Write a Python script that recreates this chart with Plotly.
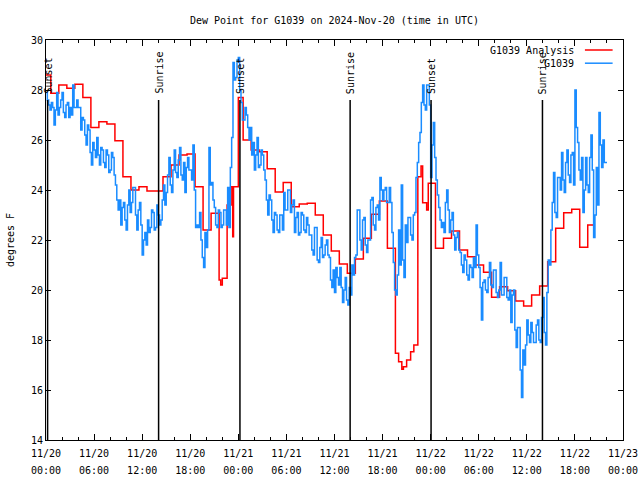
import pandas as pd
import plotly.graph_objects as go

# ---------------- data ----------------
start = pd.Timestamp("2024-11-20 00:00")

# G1039 Analysis (hourly step series) : hours since start, dew point (F)
analysis_hours = [0.0, 0.6, 1.6, 2.6, 3.6, 4.6, 5.6, 6.6, 7.6, 8.6, 9.6, 10.6, 11.6, 12.6, 13.6,
                  14.6, 15.6, 16.6, 17.6, 18.6, 19.6, 20.6, 21.6, 21.8, 22.0, 22.6, 23.1, 23.3, 23.4,
                  24.0, 24.6, 25.6, 26.6, 27.6, 28.6, 29.6, 30.6, 31.6, 32.6, 33.6, 34.6, 35.6, 36.6,
                  37.6, 38.6, 39.6, 40.6, 41.6, 42.6, 43.6, 44.0, 44.4, 44.6, 45.0, 45.5, 45.9, 46.4,
                  46.8, 47.0, 47.5, 47.7, 48.6, 49.6, 50.6, 51.6, 52.6, 53.6, 54.6, 55.6, 56.6, 57.6,
                  58.6, 59.6, 60.6, 61.6, 62.6, 63.6, 64.6, 65.6, 66.6, 67.6, 68.5]
analysis_values = [28.6, 27.87, 28.2, 28.07, 28.23, 27.7, 26.5, 26.73, 26.64, 25.97, 24.53, 24.0, 24.13, 23.96, 23.96,
                   24.53, 25.0, 25.4, 25.44, 24.13, 22.4, 23.07, 20.4, 20.2, 20.47, 23.4, 24.13, 22.13, 24.13,
                   27.7, 26.0, 25.6, 25.53, 24.85, 23.92, 24.3, 23.33, 23.44, 23.47, 23.0, 22.2, 21.56, 21.04,
                   20.67, 21.24, 22.07, 23.03, 23.56, 21.67, 17.47, 17.13, 16.83, 16.93, 17.2, 17.53, 17.8, 24.53,
                   24.96, 23.49, 23.2, 24.27, 21.67, 22.07, 22.36, 21.6, 21.33, 21.0, 20.71, 19.71, 20.13, 19.97,
                   19.56, 19.36, 19.8, 20.16, 21.13, 22.47, 23.09, 23.23, 21.71, 22.6, 22.6]

# G1039 observations, one value every 10 minutes (one row per hour)
obs_step_minutes = 10
obs_values = [
    27.9, 27.6, 27.4, 27.2, 27.5, 27.3,
    26.6, 27.2, 27.9, 27.0, 27.3, 27.6,
    27.9, 27.1, 26.9, 27.4, 27.5, 26.9,
    27.3, 27.0, 28.2, 27.3, 27.3, 27.6,
    27.3, 27.3, 26.4, 26.9, 26.8, 26.2,
    25.8, 26.6, 26.4, 25.5, 25.0, 25.9,
    25.6, 25.3, 26.1, 25.4, 25.0, 25.7,
    25.6, 25.1, 24.9, 25.6, 25.4, 24.7,
    24.8, 25.5, 25.3, 24.6, 24.2, 23.6,
    23.2, 23.6, 22.6, 23.3, 23.5, 22.8,
    22.4, 23.4, 24.0, 23.1, 23.5, 24.1,
    24.1, 23.0, 22.4, 23.2, 23.5, 22.6,
    21.4, 22.0, 22.3, 21.8, 22.8, 22.3,
    22.5, 23.2, 23.1, 22.4, 22.5, 23.4,
    23.0, 22.6, 22.8, 23.6, 24.2, 23.4,
    23.9, 24.6, 25.3, 24.2, 23.9, 24.8,
    25.6, 24.7, 24.5, 25.2, 25.7, 24.6,
    24.4, 25.1, 23.9, 24.9, 25.3, 24.8,
    24.8, 24.4, 25.8, 24.0, 22.5, 22.6,
    22.5, 23.1, 22.0, 21.3, 20.9, 22.3,
    21.7, 22.4, 25.7, 24.2, 24.3, 23.6,
    23.3, 22.6, 22.5, 23.2, 23.1, 22.5,
    22.6, 23.2, 23.2, 22.6, 24.1, 22.5,
    24.9, 26.1, 29.1, 28.4, 28.5, 29.2,
    29.3, 28.0, 27.5, 26.8, 26.8, 27.3,
    27.0, 26.5, 26.0, 26.5, 25.4, 25.9,
    24.8, 25.4, 26.1, 24.9, 25.0, 25.6,
    25.4, 24.8, 24.4, 23.6, 23.0, 23.8,
    23.6, 22.8, 22.3, 23.1, 23.0, 22.4,
    22.3, 23.0, 23.0, 22.4, 23.9, 23.2,
    23.2, 24.0, 24.0, 23.1, 23.4, 23.6,
    22.3, 22.9, 23.1, 22.2, 22.3, 23.1,
    23.0, 22.4, 22.3, 22.9, 22.6, 22.2,
    22.2, 21.6, 21.4, 22.5, 22.5, 21.2,
    21.1, 21.7, 22.1, 21.3, 21.4, 21.8,
    22.0, 21.4, 21.3, 20.4, 20.1, 20.8,
    19.9, 20.9, 20.5, 20.2, 20.9, 20.1,
    19.5, 20.0, 20.5, 19.6, 19.4, 20.1,
    19.8, 21.0, 20.6, 21.3, 21.4, 23.2,
    23.2, 22.0, 21.6, 22.8, 22.9, 21.8,
    21.5, 22.0, 22.0, 23.6, 23.7, 22.6,
    22.4, 23.3, 23.4, 22.8, 24.5, 24.0,
    23.6, 24.0, 24.1, 23.5, 23.5, 24.1,
    23.5, 22.3, 21.1, 20.0, 19.8, 20.6,
    22.4, 21.0, 24.2, 21.2, 20.5, 22.6,
    21.9, 22.9, 22.9, 22.2, 22.0, 23.0,
    23.1, 24.5, 25.1, 25.9, 26.3, 27.5,
    28.2, 27.4, 27.2, 28.2, 28.2, 27.4,
    24.5, 25.8, 26.7, 25.3, 24.4, 23.8,
    23.3, 22.8, 22.5, 22.7, 22.3, 23.5,
    24.0, 23.2, 22.3, 22.8, 23.1, 22.2,
    21.6, 22.1, 22.3, 21.6, 21.5, 21.0,
    20.7, 21.4, 21.2, 20.6, 20.4, 21.0,
    20.9, 20.5, 21.3, 20.9, 22.6, 21.4,
    20.9, 20.1, 18.8, 20.3, 20.4, 20.0,
    19.9, 20.5, 21.1, 20.2, 20.1, 20.8,
    20.8, 19.9, 19.7, 20.0, 21.1, 19.8,
    19.8, 20.5, 20.5, 19.7, 19.6, 20.0,
    18.7, 19.8, 20.0, 18.4, 17.7, 18.5,
    18.5, 16.8, 15.7, 17.6, 17.0, 17.8,
    18.8, 18.2, 17.9, 18.7, 18.3, 17.9,
    17.9, 18.6, 18.8, 18.0, 17.9, 18.9,
    19.7, 18.3, 17.8, 19.9, 21.2, 21.0,
    22.4, 23.5, 24.7, 23.1, 22.9, 24.5,
    24.5, 24.0, 25.5, 24.4, 23.9, 25.1,
    25.6, 24.6, 24.3, 25.4, 25.5, 24.2,
    28.0, 26.5, 25.9, 24.8, 24.4, 25.3,
    23.1, 24.0, 25.3, 24.2, 23.9, 25.3,
    26.2, 24.8, 22.1, 23.0, 24.9, 23.4,
    27.1, 25.8, 24.9, 26.0, 25.1, 25.1,
    25.1]

# sunrise / sunset events (hours since start)
sun_event_hours = [0.2, 14.05, 24.2, 37.95, 48.05, 61.95]
sun_event_labels = ["Sunset", "Sunrise", "Sunset", "Sunrise", "Sunset", "Sunrise"]

x_tick_hours = [0, 6, 12, 18, 24, 30, 36, 42, 48, 54, 60, 66, 72]
x_tick_dates = ["11/20", "11/20", "11/20", "11/20", "11/21", "11/21", "11/21", "11/21",
                "11/22", "11/22", "11/22", "11/22", "11/23"]
x_tick_times = ["00:00", "06:00", "12:00", "18:00", "00:00", "06:00", "12:00", "18:00",
                "00:00", "06:00", "12:00", "18:00", "00:00"]
y_ticks = [14, 16, 18, 20, 22, 24, 26, 28, 30]

# ---------------- build ----------------
def hours_to_time(hs):
    return [start + pd.Timedelta(hours=h) for h in hs]

analysis_t = hours_to_time(analysis_hours)
obs_t = [start + pd.Timedelta(minutes=obs_step_minutes * i) for i in range(len(obs_values))]

FONT = "DejaVu Sans Mono"
RED = "#ff0000"
BLUE = "#1a8cff"
SPAN = '<span style="font-size:10px">{}</span>'
x_tick_text = [SPAN.format(d) + "<br>" + SPAN.format(t) for d, t in zip(x_tick_dates, x_tick_times)]

fig = go.Figure()
fig.add_trace(go.Scatter(x=analysis_t, y=analysis_values, mode="lines", name="G1039 Analysis",
                         line=dict(color=RED, width=1.5, shape="hv"), showlegend=False))
fig.add_trace(go.Scatter(x=obs_t, y=obs_values, mode="lines", name="G1039",
                         line=dict(color=BLUE, width=1.5, shape="hv"), showlegend=False))

for h, lab in zip(sun_event_hours, sun_event_labels):
    t = start + pd.Timedelta(hours=h)
    fig.add_shape(type="line", xref="x", yref="y", x0=t, x1=t, y0=14, y1=27.6,
                  line=dict(color="black", width=1.5))
    fig.add_annotation(x=t, y=27.6, xref="x", yref="y", text=lab, textangle=-90,
                       showarrow=False, xanchor="center", yanchor="bottom", yshift=4,
                       font=dict(family=FONT, size=10, color="black"))

# legend (gnuplot style: text then line sample on the right)
legend_items = [("G1039 Analysis", RED, 0.975), ("G1039", BLUE, 0.942)]
for name, col, py in legend_items:
    fig.add_annotation(x=0.9185, y=py, xref="paper", yref="paper", text=name, showarrow=False,
                       xanchor="right", yanchor="middle",
                       font=dict(family=FONT, size=10, color="black"))
    fig.add_shape(type="line", xref="paper", yref="paper", x0=0.934, x1=0.982, y0=py, y1=py,
                  line=dict(color=col, width=1.5))

fig.update_layout(
    width=640, height=480,
    margin=dict(l=46, r=17, t=40, b=40, autoexpand=False),
    paper_bgcolor="white", plot_bgcolor="white",
    font=dict(family=FONT, size=10, color="black"),
    title=dict(text="Dew Point for G1039 on 2024-Nov-20 (time in UTC)", x=0.5, xref="paper",
               xanchor="center", y=1 - 20 / 480, yref="container", yanchor="middle",
               font=dict(family=FONT, size=10, color="black")),
)
fig.update_xaxes(
    type="date", range=[start, start + pd.Timedelta(hours=72)], automargin=False,
    tickmode="array", tickvals=hours_to_time(x_tick_hours), ticktext=x_tick_text,
    ticks="inside", ticklen=6, tickcolor="black",
    minor=dict(tickmode="linear", tick0=start, dtick=2 * 3600 * 1000, ticks="inside",
               ticklen=3, tickcolor="black", showgrid=False),
    showline=True, linecolor="black", linewidth=1, mirror="allticks",
    showgrid=False, zeroline=False, tickfont=dict(family=FONT, size=13, color="black"),
)
fig.update_yaxes(
    range=[14, 30], tickmode="array", tickvals=y_ticks, ticktext=[str(v) for v in y_ticks],
    automargin=False,
    ticks="inside", ticklen=5, tickcolor="black",
    showline=True, linecolor="black", linewidth=1, mirror="allticks",
    showgrid=False, zeroline=False, tickfont=dict(family=FONT, size=10, color="black"),
    title=dict(text="degrees F", standoff=14, font=dict(family=FONT, size=10, color="black")),
)

fig.write_html("out.html", config={"displayModeBar": False},
               post_script="document.body.style.margin='0px';")
